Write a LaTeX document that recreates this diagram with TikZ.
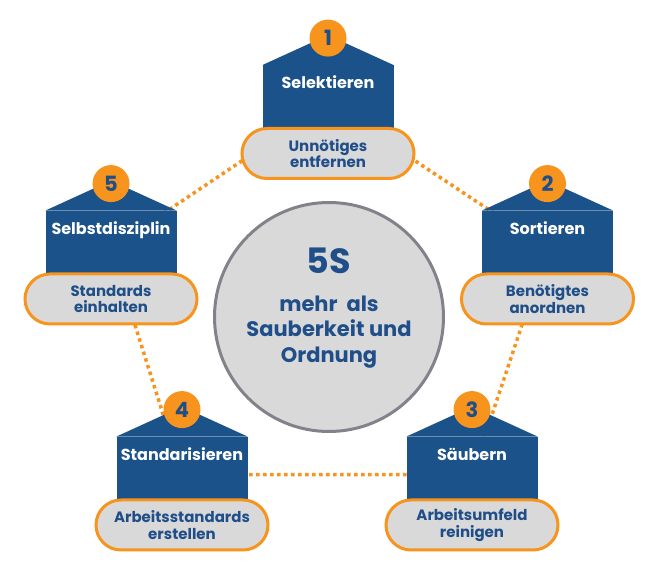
\documentclass[tikz,border=0pt]{standalone}
\usepackage{fontspec}
\setmainfont{Poppins}
\usetikzlibrary{positioning,backgrounds}
\definecolor{navy}{HTML}{1B5289}
\definecolor{textblue}{HTML}{1F4E89}
\definecolor{accent}{HTML}{F7941D}
\definecolor{pillgray}{HTML}{D9D9D9}
\definecolor{ringgray}{HTML}{85818A}

\begin{document}
\begin{tikzpicture}[
    x=1pt, y=1pt,
    housebody/.style={rectangle, fill=navy, minimum width=131pt, minimum height=88pt, inner sep=0pt, anchor=south},
    roof/.style={fill=navy},
    numbadge/.style={circle, fill=accent, minimum size=37pt, inner sep=0pt, text=textblue, font=\fontsize{21}{21}\selectfont\bfseries},
    housetitle/.style={anchor=base, text=white, font=\fontsize{16}{16}\selectfont\bfseries},
    pill/.style={rectangle, rounded corners=25pt, draw=accent, line width=3pt, fill=pillgray, minimum width=172pt, minimum height=50pt, align=center, text=textblue, font=\fontsize{15}{16.7}\selectfont\bfseries},
    core/.style={circle, draw=ringgray, line width=3pt, fill=pillgray, minimum size=229pt, inner sep=0pt},
    corehead/.style={text=textblue, font=\fontsize{35}{35}\selectfont\bfseries},
    coretext/.style={align=center, text=textblue, font=\fontsize{21}{25.5}\selectfont\bfseries},
    dotline/.style={accent, line width=3.5pt, dash pattern=on 3.5pt off 3.5pt},
]
\useasboundingbox (0,0) rectangle (659,570);

% Centre circle
\node[core] (core) at (329,253) {};
\node[corehead] (head) at ([yshift=56pt]core.center) {5S};
\node[coretext] (slogan) at ([yshift=-15pt]core.center) {mehr\ \ als\\Sauberkeit und\\Ordnung};

% 1 Selektieren
\node[housebody] (h1) at (328,416.5) {};
\fill[roof] (h1.north west) -- ([yshift=30pt]h1.north) -- (h1.north east) -- cycle;
\node[numbadge] (n1) at ([yshift=27pt]h1.north) {1};
\node[housetitle] (t1) at ([yshift=-23.5pt]h1.north) {Selektieren};
\node[pill] (p1) at (h1.south) {Unnötiges\\entfernen};
\coordinate (c1) at ([yshift=-38pt]h1.north);

% 2 Sortieren
\node[housebody] (h2) at (547.5,271) {};
\fill[roof] (h2.north west) -- ([yshift=30pt]h2.north) -- (h2.north east) -- cycle;
\node[numbadge] (n2) at ([yshift=27pt]h2.north) {2};
\node[housetitle] (t2) at ([yshift=-23.5pt]h2.north) {Sortieren};
\node[pill] (p2) at (h2.south) {Benötigtes\\anordnen};
\coordinate (c2) at ([yshift=-38pt]h2.north);

% 3 Säubern
\node[housebody] (h3) at (472,45) {};
\fill[roof] (h3.north west) -- ([yshift=30pt]h3.north) -- (h3.north east) -- cycle;
\node[numbadge] (n3) at ([yshift=27pt]h3.north) {3};
\node[housetitle] (t3) at ([yshift=-23.5pt]h3.north) {Säubern};
\node[pill] (p3) at (h3.south) {Arbeitsumfeld\\reinigen};
\coordinate (c3) at ([yshift=-38pt]h3.north);

% 4 Standarisieren
\node[housebody] (h4) at (182,45) {};
\fill[roof] (h4.north west) -- ([yshift=30pt]h4.north) -- (h4.north east) -- cycle;
\node[numbadge] (n4) at ([yshift=27pt]h4.north) {4};
\node[housetitle] (t4) at ([yshift=-23.5pt]h4.north) {Standarisieren};
\node[pill] (p4) at (h4.south) {Arbeitsstandards\\erstellen};
\coordinate (c4) at ([yshift=-38pt]h4.north);

% 5 Selbstdisziplin
\node[housebody] (h5) at (111,271) {};
\fill[roof] (h5.north west) -- ([yshift=30pt]h5.north) -- (h5.north east) -- cycle;
\node[numbadge] (n5) at ([yshift=27pt]h5.north) {5};
\node[housetitle] (t5) at ([yshift=-23.5pt]h5.north) {Selbstdisziplin};
\node[pill] (p5) at (h5.south) {Standards\\einhalten};
\coordinate (c5) at ([yshift=-38pt]h5.north);

% Dotted ring
\begin{scope}[on background layer]
\draw[dotline] (c1) -- (c2) -- (c3) -- (c4) -- (c5) -- cycle;
\end{scope}

\end{tikzpicture}
\end{document}
